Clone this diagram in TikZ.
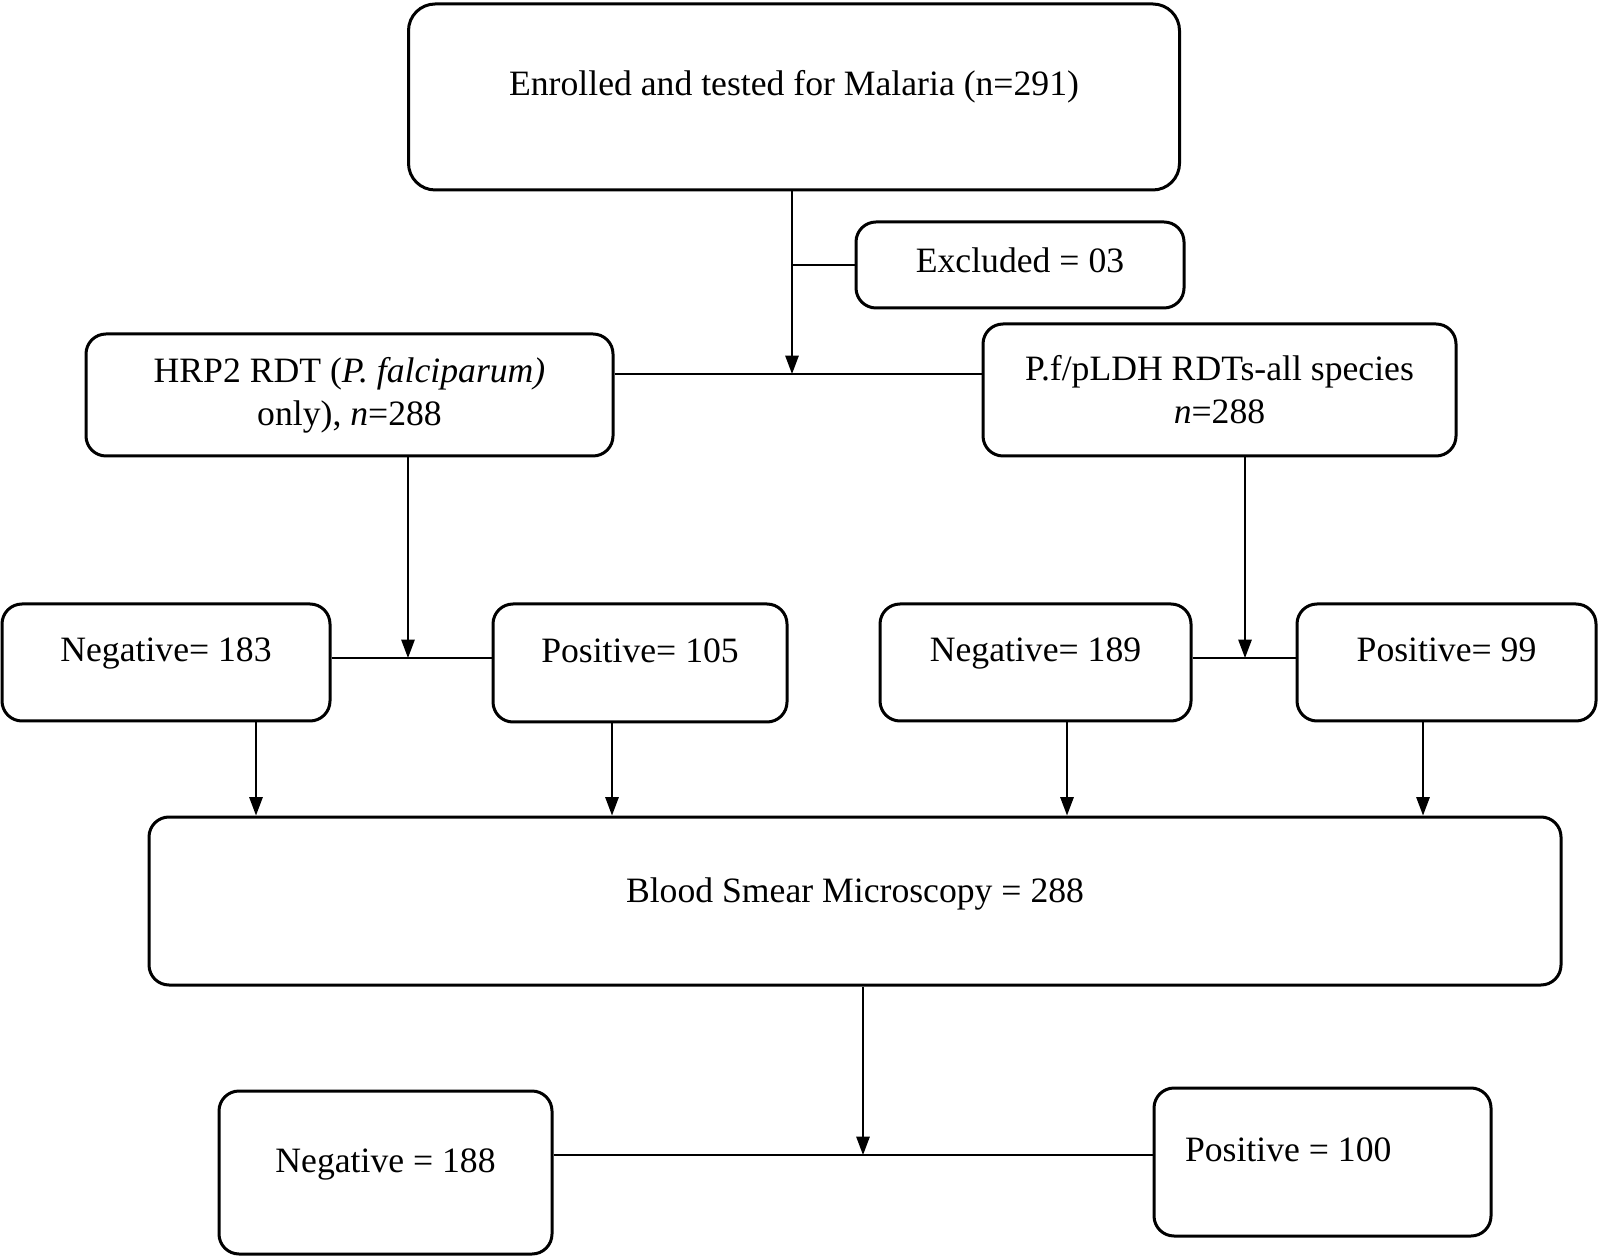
\documentclass[tikz,border=0pt]{standalone}
\usepackage{fontspec}
\setmainfont{Liberation Serif}
\usetikzlibrary{arrows.meta}

\begin{document}
\begin{tikzpicture}[x=0.3pt,y=-0.3pt,line width=0.5pt,
    box/.style={draw,line width=0.9pt,rounded corners=6pt,align=center,inner sep=0pt,
      font=\fontsize{10.7}{12.9}\selectfont},
    lift/.style={text height=7pt,text depth=#1},
    arr/.style={-{Triangle[length=5.5pt,width=4pt]}}]
  \useasboundingbox (0,0) rectangle (1598,1257);
  % boxes
  \node[box,lift=7.8pt,rounded corners=8pt,minimum width=231.3pt,minimum height=55.8pt] (enrol) at (794,97) {Enrolled and tested for Malaria (n=291)};
  \node[box,lift=2.4pt,minimum width=98.4pt,minimum height=25.8pt] (excl) at (1020,265) {Excluded = 03};
  \node[box,minimum width=158.1pt,minimum height=36.6pt] (hrp) at (349.5,395) {HRP2 RDT (\textit{P. falciparum)}\\only), \textit{n}=288};
  \node[box,minimum width=141.9pt,minimum height=39.6pt] (pf) at (1219.5,390) {P.f/pLDH RDTs-all species\\\textit{n}=288};
  \node[box,lift=7.5pt,minimum width=98.4pt,minimum height=35.1pt] (neg1) at (166,662.5) {Negative= 183};
  \node[box,lift=7.5pt,minimum width=88.2pt,minimum height=35.4pt] (pos1) at (640,663) {Positive= 105};
  \node[box,lift=7.5pt,minimum width=93.3pt,minimum height=35.1pt] (neg2) at (1035.5,662.5) {Negative= 189};
  \node[box,lift=7.5pt,minimum width=89.7pt,minimum height=35.1pt] (pos2) at (1446.5,662.5) {Positive= 99};
  \node[box,lift=6pt,minimum width=423.6pt,minimum height=50.4pt] (blood) at (855,901) {Blood Smear Microscopy = 288};
  \node[box,lift=6.9pt,minimum width=99.9pt,minimum height=48.9pt] (neg3) at (385.5,1172.5) {Negative = 188};
  \node[box,lift=7.2pt,align=flush left,text width=82.5pt,minimum width=101.1pt,minimum height=44.4pt] (pos3) at (1322.5,1162) {Positive = 100};
  % junctions
  \coordinate (j1) at (792,374);
  \coordinate (j2) at (408,658);
  \coordinate (j3) at (1245,658);
  \coordinate (j4) at (863,1155);
  % connectors
  \draw[arr] (enrol.south -| j1) -- (j1);
  \draw (excl.west) -- (excl.west -| j1);
  \draw (hrp.east |- j1) -- (pf.west |- j1);
  \draw[arr] (hrp.south -| j2) -- (j2);
  \draw (neg1.east |- j2) -- (pos1.west |- j2);
  \draw[arr] (pf.south -| j3) -- (j3);
  \draw (neg2.east |- j3) -- (pos2.west |- j3);
  \foreach \n/\x in {neg1/256,pos1/612,neg2/1067,pos2/1423}
    \draw[arr] (\n.south -| \x,0) -- (blood.north -| \x,0);
  \draw[arr] (blood.south -| j4) -- (j4);
  \draw (neg3.east |- j4) -- (pos3.west |- j4);
\end{tikzpicture}
\end{document}
